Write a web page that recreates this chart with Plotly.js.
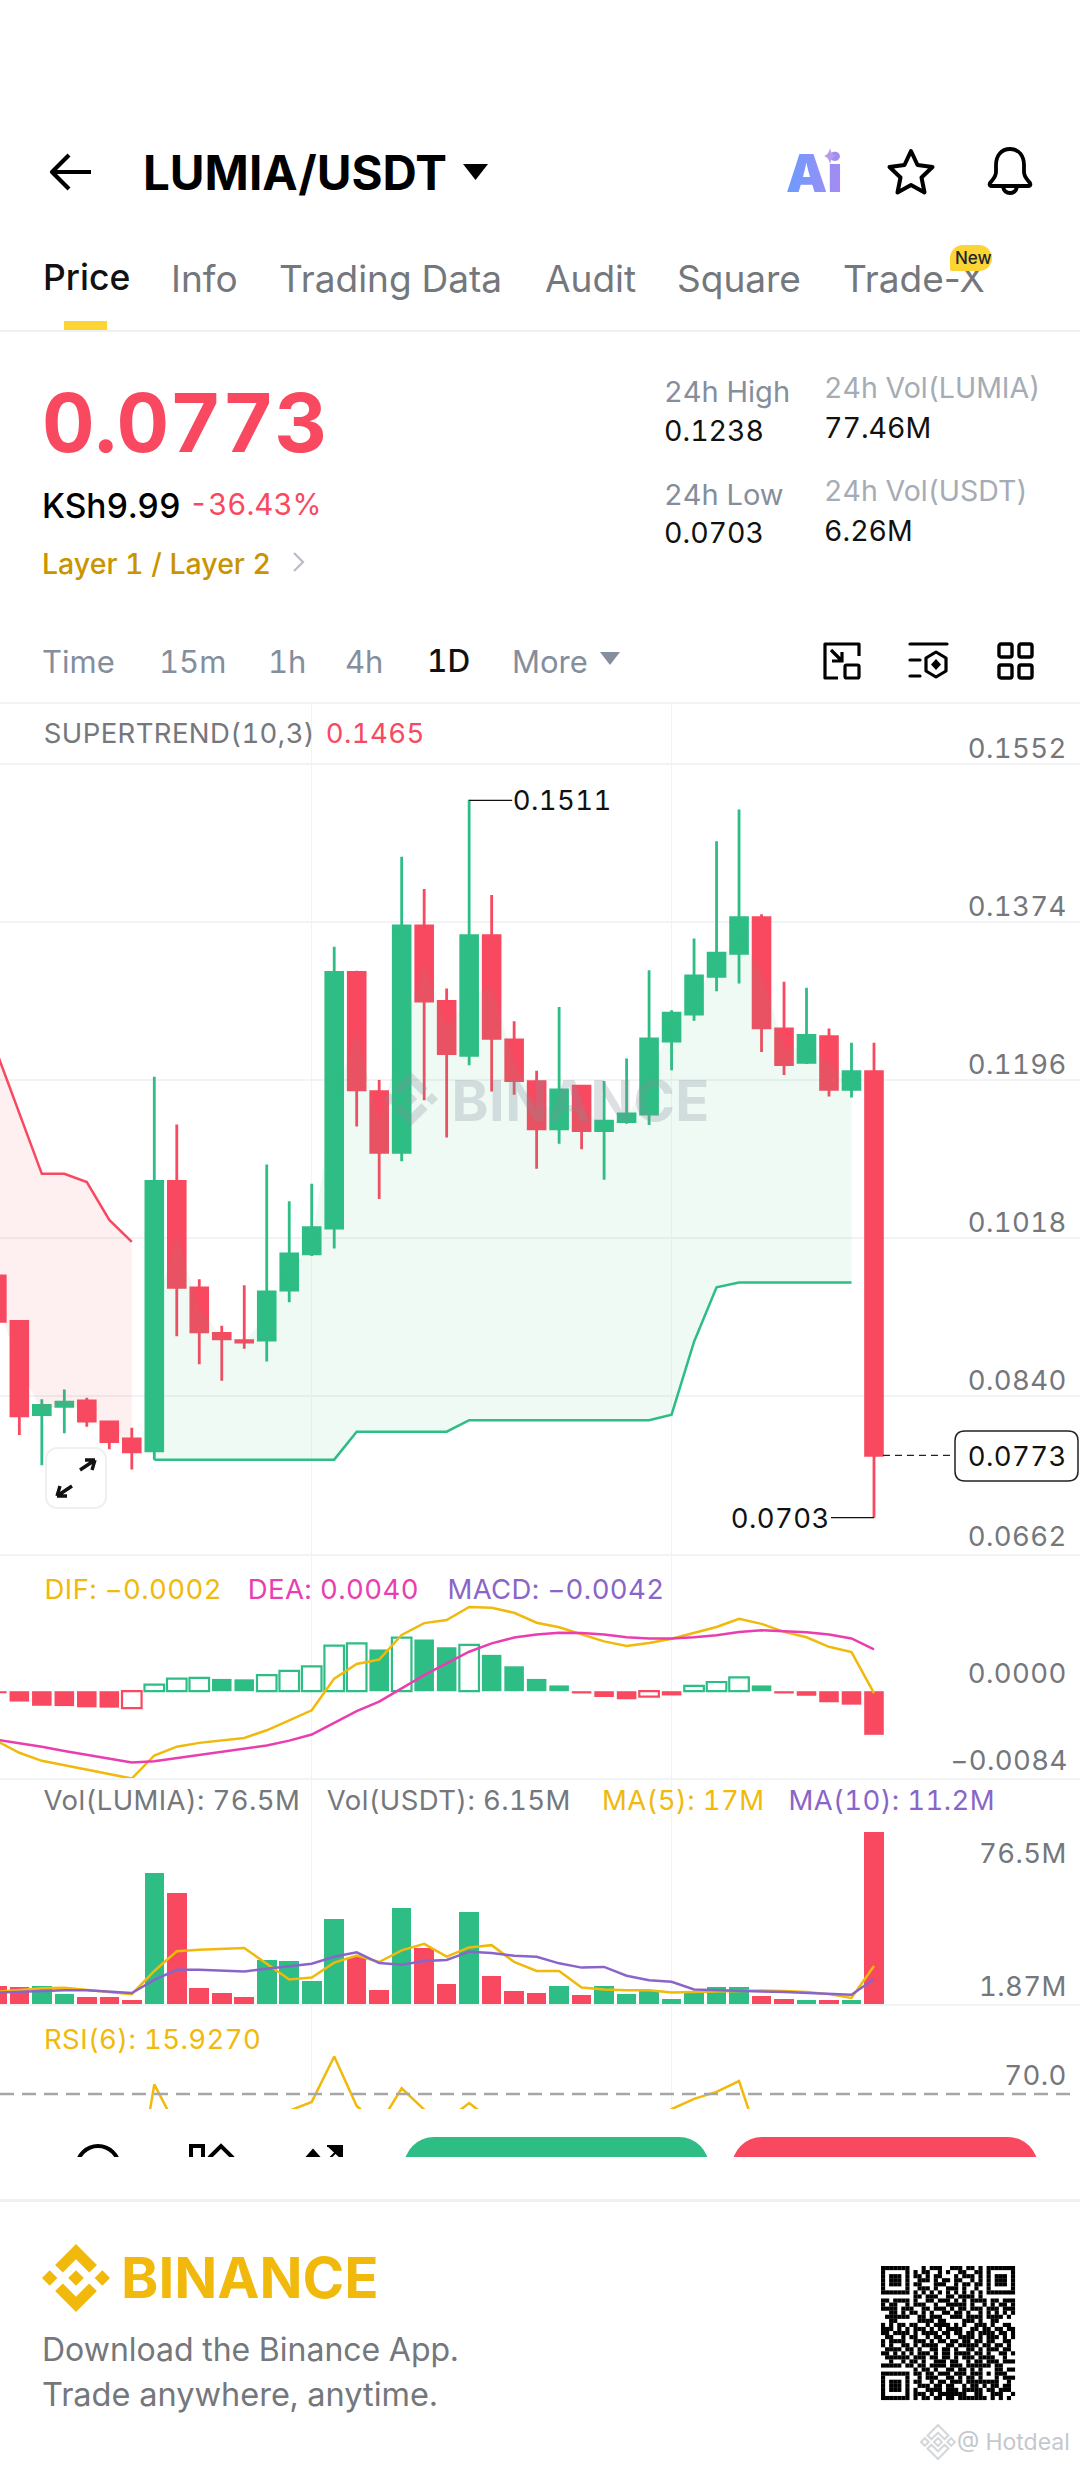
<!DOCTYPE html>
<html>
<head>
<meta charset="utf-8">
<script src="https://cdn.plot.ly/plotly-3.0.1.min.js"></script>
<style>
html,body{margin:0;padding:0;background:#fff;width:1080px;height:2466px;overflow:hidden;font-family:Inter,"Noto Sans",sans-serif;font-feature-settings:"tnum" 1}
#plot{position:absolute;left:0;top:700px;width:1080px;height:1410px}
#plot text{font-feature-settings:"tnum" 1 !important;letter-spacing:.4px}
.t{position:absolute;white-space:nowrap;transform:translateY(-50%);line-height:1}
svg.i{position:absolute;overflow:visible}
.b{position:absolute;background:#fff}
</style>
</head>
<body>
<div id="plot"></div>
<div id="chrome"></div>
<script>
// ---------- chart data ----------
const candleIndex = [0,1,2,3,4,5,6,7,8,9,10,11,12,13,14,15,16,17,18,19,20,21,22,23,24,25,26,27,28,29,30,31,32,33,34,35,36,37,38,39];
const openPrice  = [.09753,.0924,.0819,.08282,.08344,.08109,.07918,.07782,.10817,.09618,.09105,.09024,.0903,.09593,.10001,.10291,.13171,.1183,.11144,.13697,.12844,.12238,.13585,.12411,.11941,.1141,.11892,.11391,.1149,.11577,.12399,.12702,.13128,.13388,.13789,.12535,.12158,.12448,.11855,.12053];
const closePrice = [.0924,.08177,.08295,.08332,.08116,.07887,.0777,.10817,.09624,.09123,.09043,.09006,.09574,.10001,.10297,.13171,.11849,.11144,.13697,.1285,.12257,.13585,.1243,.11954,.1141,.11849,.11391,.11496,.11577,.12424,.12714,.13134,.13388,.13789,.12547,.12133,.12461,.11855,.12053,.07732];
const highPrice  = [.09753,.0924,.08363,.08474,.08381,.08122,.08041,.11997,.11459,.09716,.09191,.09648,.11008,.10594,.10792,.13462,.1319,.1196,.14475,.14111,.12992,.15118,.14043,.12621,.12065,.12782,.11904,.11948,.12201,.13196,.12745,.13555,.14649,.15007,.13827,.13066,.12998,.12541,.1238,.1238];
const lowPrice   = [.0924,.07961,.07621,.0798,.08054,.078,.07572,.07683,.09074,.08758,.08573,.08931,.08789,.09457,.09976,.10063,.11435,.10619,.11045,.11731,.11311,.12127,.1183,.11793,.10959,.11243,.11181,.10835,.11466,.11453,.12071,.12627,.12961,.13048,.12275,.12016,.12139,.11775,.11762,.07028];
const supertrendDown = [.12269,.11589,.10903,.10903,.1081,.10384,.10137];
const supertrendUp = [.07683,.07683,.07683,.07683,.07683,.07683,.07683,.07683,.07683,.07998,.07998,.07998,.07998,.07998,.08128,.08128,.08128,.08128,.08128,.08128,.08128,.08128,.08128,.0819,.09012,.09624,.09679,.09679,.09679,.09679,.09679,.09679];
const macdHist = [-.0002,-.001,-.00141,-.00144,-.00156,-.00159,-.00163,.00063,.00122,.0013,.00119,.00115,.00156,.00196,.00241,.00441,.00463,.00404,.00519,.005,.00426,.00448,.00352,.00241,.00119,.00056,-.00022,-.00056,-.00078,-.00052,-.00041,.00052,.00089,.00133,.00056,-.00022,-.00044,-.00107,-.0013,-.00422];
const macdHollow = [6,7,8,9,12,13,14,15,16,18,21,29,31,32,33];
const macdDif = [-.00482,-.00596,-.00674,-.00715,-.00759,-.00804,-.00845,-.00622,-.00537,-.005,-.00474,-.00452,-.00378,-.00285,-.00185,.00122,.00263,.00307,.00544,.00659,.00689,.00815,.00807,.00759,.00663,.00619,.00548,.00482,.00437,.00467,.00507,.00567,.00622,.007,.00652,.00574,.00522,.0043,.00378,-.00019];
const macdDea = [-.0047,-.005,-.00537,-.00578,-.00615,-.00652,-.00689,-.00678,-.00648,-.00619,-.00593,-.00563,-.00526,-.00478,-.00419,-.00307,-.00193,-.001,.00026,.00156,.0027,.00382,.00463,.00519,.00548,.00567,.00563,.00548,.00522,.00511,.00511,.00522,.00541,.00574,.00589,.00582,.0057,.00548,.00511,.00404];
const volume = [7.8,7.5,8.2,4.6,3.2,3.2,2.0,58.4,49.6,7.3,4.9,3.2,19.4,19.3,10.4,37.7,21,6.3,42.9,25,9,40.9,12.4,5.8,4.9,8,4.1,7.8,4.4,6.1,2.4,6,7.5,7.7,3.4,2.4,2,1.9,2,76.5];
const volMa5 = [5.5,6.1,7.0,7.2,6.3,5.6,4.4,14.7,23.5,24.2,24.5,24.9,17.9,10.9,11.8,18.4,21.6,18.7,23.9,26.8,21.1,25.2,26.2,18.7,14.7,14.7,7.3,6.5,6.1,6.1,5.1,5.3,5.6,6.0,6.0,5.8,5.3,4.4,2.7,16.9];
const volMa10 = [5.1,5.5,6.0,6.1,6.1,5.6,4.9,10.7,15.2,15.3,15.0,14.5,15.7,16.9,17.9,21.0,23.0,18.2,17.5,19.1,19.6,23.3,22.7,21.5,21.0,18.1,16.2,16.5,12.6,10.6,9.9,6.5,6.1,5.8,5.6,5.3,4.9,4.4,4.1,11.1];
const rsi6 = [30,22,26,27,24,20,18,74,56,44,42,42,55,63,66.7,85.6,65,57,72.4,63.5,59,66.2,59,50,46,48,44,45,46,55,63.7,68,70.9,75.4,47.5,42,44,38,40,15.93];
const priceTicks = [.1552,.1374,.1196,.1018,.084,.0662];
const priceTickText = ['0.1552','0.1374','0.1196','0.1018','0.0840','0.0662'];
const macdTicks = [0,-.0084];
const macdTickText = ['0.0000','\u22120.0084'];
const rsiTicks = [70];
const rsiTickText = ['70.0'];
const timeGrid = [14,30];

const GREEN='#2EBD85', RED='#F84960', ORANGE='#F0B90B', PINK='#E93DB0', PURPLE='#8A65C9', GRAY='#74777B';
const FONT='Inter, "Noto Sans", sans-serif';
const GRID='#F1F3F5';
const H=1410, TOP=700;
const py=y=>1-(y-TOP)/H, px=x=>x/1080;
const dom=(a,b)=>[py(b),py(a)];
const isUp=candleIndex.map(i=>closePrice[i]>=openPrice[i]);
const mid=candleIndex.map(i=>(openPrice[i]+closePrice[i])/2);

const redIdx=candleIndex.slice(0,7), greenIdx=candleIndex.slice(7,39);
const hollow=candleIndex.map(i=>macdHollow.includes(i));
const macdCol=macdHist.map(v=>v>=0?GREEN:RED);

const traces=[
 {type:'candlestick',name:'LUMIA/USDT',x:candleIndex,open:openPrice,close:closePrice,high:highPrice,low:lowPrice,xaxis:'x',yaxis:'y',
  increasing:{line:{color:GREEN,width:2.8},fillcolor:GREEN},decreasing:{line:{color:RED,width:2.8},fillcolor:RED},hoverinfo:'skip'},
 {type:'scatter',mode:'lines',x:redIdx,y:redIdx.map(i=>mid[i]),line:{width:0},hoverinfo:'skip',xaxis:'x',yaxis:'y'},
 {type:'scatter',mode:'lines',name:'Supertrend down',x:redIdx,y:supertrendDown,line:{color:RED,width:2.5},fill:'tonexty',fillcolor:'rgba(248,73,96,0.09)',hoverinfo:'skip',xaxis:'x',yaxis:'y'},
 {type:'scatter',mode:'lines',x:greenIdx,y:greenIdx.map(i=>mid[i]),line:{width:0},hoverinfo:'skip',xaxis:'x',yaxis:'y'},
 {type:'scatter',mode:'lines',name:'Supertrend up',x:greenIdx,y:supertrendUp,line:{color:GREEN,width:2.5},fill:'tonexty',fillcolor:'rgba(46,189,133,0.08)',hoverinfo:'skip',xaxis:'x',yaxis:'y'},
 {type:'bar',name:'MACD',x:candleIndex,y:macdHist,width:.87,xaxis:'x2',yaxis:'y2',hoverinfo:'skip',
  marker:{color:macdCol.map((c,i)=>hollow[i]?'#fff':c),line:{color:macdCol,width:hollow.map(h=>h?2.2:0)}}},
 {type:'scatter',mode:'lines',name:'DIF',x:candleIndex,y:macdDif,line:{color:ORANGE,width:2.5},xaxis:'x2',yaxis:'y2',hoverinfo:'skip'},
 {type:'scatter',mode:'lines',name:'DEA',x:candleIndex,y:macdDea,line:{color:PINK,width:2.5},xaxis:'x2',yaxis:'y2',hoverinfo:'skip'},
 {type:'bar',name:'Volume',x:candleIndex,y:volume,width:.87,xaxis:'x3',yaxis:'y3',hoverinfo:'skip',marker:{color:isUp.map(u=>u?GREEN:RED)}},
 {type:'scatter',mode:'lines',name:'MA(5)',x:candleIndex,y:volMa5,line:{color:ORANGE,width:2.5},xaxis:'x3',yaxis:'y3',hoverinfo:'skip'},
 {type:'scatter',mode:'lines',name:'MA(10)',x:candleIndex,y:volMa10,line:{color:PURPLE,width:2.5},xaxis:'x3',yaxis:'y3',hoverinfo:'skip'},
 {type:'scatter',mode:'lines',name:'RSI(6)',x:candleIndex,y:rsi6,line:{color:ORANGE,width:2.5},xaxis:'x4',yaxis:'y4',hoverinfo:'skip'}
];

const FS=27.5;
const xBase={range:[.14,48.16],tickmode:'array',tickvals:timeGrid,showticklabels:false,ticks:'',showgrid:true,gridcolor:GRID,gridwidth:1.5,zeroline:false,fixedrange:true,rangeslider:{visible:false}};
const yBase={side:'right',ticks:'',zeroline:false,fixedrange:true,tickmode:'array',showticklabels:false};
const label=(text,x,y,color,size,extra)=>{const right=extra&&extra.xanchor==='right';return Object.assign({xref:'paper',yref:'paper',x:px(x+(right?3:-1)),y:py(y),xanchor:'left',yanchor:'middle',showarrow:false,text,font:{family:FONT,size:size||FS,color}},extra||{});};
const tickLabel=(text,yref,v,shift)=>({xref:'paper',yref,x:px(1068),y:v,yshift:shift,xanchor:'right',yanchor:'middle',showarrow:false,text,font:{family:FONT,size:FS,color:GRAY}});

const layout={
 width:1080,height:H,margin:{l:0,r:0,t:0,b:0,pad:0},paper_bgcolor:'rgba(0,0,0,0)',plot_bgcolor:'rgba(0,0,0,0)',showlegend:false,boxgap:.1,boxgroupgap:.17,bargap:0,hovermode:false,dragmode:false,
 xaxis:Object.assign({},xBase,{anchor:'y',showline:true,linecolor:GRID,linewidth:2}),
 xaxis2:Object.assign({},xBase,{anchor:'y2',matches:'x',showline:true,linecolor:GRID,linewidth:2}),
 xaxis3:Object.assign({},xBase,{anchor:'y3',matches:'x',showline:true,linecolor:GRID,linewidth:2}),
 xaxis4:Object.assign({},xBase,{anchor:'y4',matches:'x'}),
 yaxis:Object.assign({},yBase,{domain:dom(703,1554),range:[.0662,.16207],tickvals:priceTicks,showgrid:true,gridcolor:GRID,gridwidth:1.5}),
 yaxis2:Object.assign({},yBase,{domain:dom(1554,1778),range:[-.0084,.01328],tickvals:macdTicks,showgrid:false}),
 yaxis3:Object.assign({},yBase,{domain:dom(1778,2004),range:[0,100.6],tickvals:[],showgrid:false}),
 yaxis4:Object.assign({},yBase,{domain:dom(2004,2109),range:[63.75,107.5],tickvals:rsiTicks,showgrid:false}),
 shapes:[
  {type:'line',xref:'paper',yref:'y4',x0:0,x1:px(1070),y0:70,y1:70,line:{color:'#A6A6A6',width:2.5,dash:'14px,8px'}},
  {type:'line',xref:'x',yref:'y',x0:39.4,x1:42.6,y0:.0773,y1:.0773,line:{color:'#222',width:1.3,dash:'7px,5px'}},
  {type:'path',xref:'paper',yref:'paper',path:`M${px(965)} ${py(1431)} L${px(1068)} ${py(1431)} Q${px(1078)} ${py(1431)} ${px(1078)} ${py(1441)} L${px(1078)} ${py(1471)} Q${px(1078)} ${py(1481)} ${px(1068)} ${py(1481)} L${px(965)} ${py(1481)} Q${px(955)} ${py(1481)} ${px(955)} ${py(1471)} L${px(955)} ${py(1441)} Q${px(955)} ${py(1431)} ${px(965)} ${py(1431)} Z`,fillcolor:'#fff',line:{color:'#222',width:1.5}}
 ],
 annotations:[
  label('SUPERTREND(10,3)',46,733,GRAY),
  label('0.1465',326,733,RED),
  {xref:'x',yref:'y',x:21,y:.1511,ax:43,ay:0,text:'0.1511',xanchor:'left',yanchor:'middle',showarrow:true,arrowhead:0,arrowwidth:1.4,arrowcolor:'#111',standoff:0,font:{family:FONT,size:FS,color:'#111'}},
  {xref:'x',yref:'y',x:39,y:.0703,ax:-43,ay:0,text:'0.0703',xanchor:'right',yanchor:'middle',showarrow:true,arrowhead:0,arrowwidth:1.4,arrowcolor:'#111',standoff:0,font:{family:FONT,size:FS,color:'#111'}},
  label('0.0773',1065,1456,'#111',FS,{xanchor:'right'}),
  label('BINANCE',452,1101,'rgba(132,142,156,.28)',56,{font:{family:FONT,size:56,color:'rgba(132,142,156,.28)',weight:700}}),
  label('DIF: \u22120.0002',46,1589,ORANGE),
  label('DEA: 0.0040',249,1589,PINK),
  label('MACD: \u22120.0042',449,1589,PURPLE),
  label('Vol(LUMIA): 76.5M',46,1800,GRAY),
  label('Vol(USDT): 6.15M',329,1800,GRAY),
  label('MA(5): 17M',603,1800,ORANGE),
  label('MA(10): 11.2M',790,1800,PURPLE),
  label('76.5M',1065,1853,GRAY,FS,{xanchor:'right'}),
  label('1.87M',1065,1986,GRAY,FS,{xanchor:'right'}),
  label('RSI(6): 15.9270',46,2039,ORANGE)
 ].concat(
  priceTicks.map((v,i)=>tickLabel(priceTickText[i],'y',v,i===5?17.5:16)),
  macdTicks.map((v,i)=>tickLabel(macdTickText[i],'y2',v,18)),
  rsiTicks.map((v,i)=>tickLabel(rsiTickText[i],'y4',v,19))
 )
};
Plotly.newPlot('plot',traces,layout,{staticPlot:true,displayModeBar:false});

// ---------- app chrome around the chart ----------
const chrome=document.getElementById('chrome');
function t(text,x,cy,size,color,weight,right){
 const s=document.createElement('div');s.className='t';s.textContent=text;
 s.style.cssText=`top:${cy}px;${right?'right:'+(1080-x):'left:'+x}px;font-size:${size}px;color:${color};font-weight:${weight||400}`;
 chrome.appendChild(s);return s;
}
function box(x,y,w,h,bg,extra){const d=document.createElement('div');d.className='b';d.style.cssText=`left:${x}px;top:${y}px;width:${w}px;height:${h}px;background:${bg};${extra||''}`;chrome.appendChild(d);return d;}
function svg(x,y,w,h,inner,vb){const n=document.createElementNS('http://www.w3.org/2000/svg','svg');n.setAttribute('class','i');n.setAttribute('width',w);n.setAttribute('height',h);n.setAttribute('viewBox',vb||`0 0 ${w} ${h}`);n.style.left=x+'px';n.style.top=y+'px';n.innerHTML=inner;chrome.appendChild(n);return n;}
const BN='M38.73 53.2l24.59-24.58 24.6 24.6 14.3-14.31L63.32 0 24.42 38.9zM0 63.31L14.3 49l14.3 14.31-14.3 14.3zM38.73 73.41l24.59 24.59 24.6-24.6 14.31 14.29-38.9 38.91-38.91-38.88v-.03zM98.01 63.31l14.3-14.31 14.3 14.3-14.3 14.31zM77.83 63.3L63.32 48.78 52.59 59.51l-1.24 1.23-2.54 2.54 14.51 14.5 14.51-14.47z';

// header
svg(49,152,44,40,'<path d="M42 20H4M20 3L3 20l17 17" fill="none" stroke="#000" stroke-width="4.2" stroke-linejoin="round"/>');
t('LUMIA/USDT',143,173,47.5,'#000',700);
svg(463,163,26,18,'<path d="M0 1h25L12.5 17z" fill="#000"/>');
svg(785,148,58,48,'<defs><linearGradient id="ag" x1="0" y1="0" x2="1" y2="0"><stop offset="0" stop-color="#6B9BFF"/><stop offset="1" stop-color="#A78BF0"/></linearGradient></defs><text x="1" y="44" font-family="Inter" font-weight="900" font-size="52" fill="url(#ag)">Ai</text><path d="M45 0c1 5 3 7 6 8-3 1-5 3-6 8-1-5-3-7-6-8 3-1 5-3 6-8z" fill="#B59BEA"/>');
svg(886,148,50,48,'<path d="M25 3l6.5 14 15 2-11 10.5 3 15L25 37l-13.500 7.500 3-15L3.500 19l15-2z" fill="none" stroke="#000" stroke-width="4" stroke-linejoin="round"/>');
svg(986,146,48,50,'<path d="M24 3c-9 0-14 7-14 16v7c0 5-3 7-6 11-1 2 0 3 2 3h36c2 0 3-1 2-3-3-4-6-6-6-11v-7c0-9-5-16-14-16zM17 41c1 4 3 6 7 6s6-2 7-6" fill="none" stroke="#000" stroke-width="3.8" stroke-linejoin="round"/>');
// tabs
t('Price',43,278,35.5,'#111',500);
[['Info',171],['Trading Data',279],['Audit',545],['Square',677]].forEach(a=>t(a[0],a[1],278,37,'#74777B',400));
t('Trade-X',843,278,37,'#74777B',400).style.fontFeatureSettings='normal';
box(950,245,42,26,'#FCD535','border-radius:13px 13px 13px 2px');
t('New',955,258,17,'#202630',500);
box(64,321,43,9,'#FCD535');
box(0,330,1080,1.5,'#EEF0F2');
// price block
t('0.0773',42,423,81.5,RED,700);
t('KSh9.99',42,507,33.5,'#000',500);
t('-36.43%',189,505,29.5,RED,400);
t('Layer 1 / Layer 2',42,564,28.5,'#C99400',500);
svg(292,551,13,22,'<path d="M2 2l9 9-9 9" fill="none" stroke="#B7BDC6" stroke-width="2.200"/>');
t('24h High',664,391,29,'#848E9C');
t('0.1238',664,431,28.5,'#111');
t('24h Low',664,494,29,'#848E9C');
t('0.0703',664,533,28.5,'#111');
t('24h Vol(LUMIA)',824,388,28.5,'#A5ACB5');
t('77.46M',824,428,28.5,'#111');
t('24h Vol(USDT)',824,490.5,28.5,'#A5ACB5');
t('6.26M',824,530.5,28.5,'#111');
// timeframe row
[['Time',42],['15m',159],['1h',268],['4h',345],['More',512]].forEach(a=>t(a[0],a[1],661,31,'#848E9C'));
t('1D',427,661,31.5,'#111',500);
svg(600,652,20,14,'<path d="M0 0h20L10 13z" fill="#848E9C"/>');
svg(823,642,38,38,'<path d="M36 14V2H2v34h13M36 20v0" fill="none" stroke="#000" stroke-width="3.200" stroke-linejoin="round"/><rect x="22" y="23" width="14" height="13" rx="1.500" fill="none" stroke="#000" stroke-width="3.200"/><path d="M8 8l11 11M19 10v9H9" fill="none" stroke="#000" stroke-width="3.200"/>');
svg(909,642,40,38,'<path d="M1 2h37M1 18h10M1 34h10" fill="none" stroke="#000" stroke-width="3.200" stroke-linecap="round"/><path d="M27 10l10 6v13l-10 6-10-6V16z" fill="none" stroke="#000" stroke-width="3.200" stroke-linejoin="round"/><path d="M27 17l5 5.500-5 5.500-5-5.500z" fill="#000"/>');
svg(997,642,37,38,'<g fill="none" stroke="#000" stroke-width="3.400"><rect x="2" y="2" width="13" height="13" rx="2"/><rect x="22" y="2" width="13" height="13" rx="2"/><rect x="2" y="23" width="13" height="13" rx="2"/><rect x="22" y="23" width="13" height="13" rx="2"/></g>');
box(0,702,1080,2,'#F1F3F5');
// watermark logo and expand button inside the chart area
svg(384,1072,54,54,`<path d="${BN}" fill="rgba(132,142,156,.28)"/>`,'0 0 126.61 126.61');
box(45,1447,62,62,'#fff','box-sizing:border-box;border:2px solid #EEF0F2;border-radius:12px');
svg(55,1456,42,44,'<path d="M2 40l15-10M2 40h10M2 40l3-10M40 4L25 14M40 4H30M40 4l-3 10" fill="none" stroke="#111" stroke-width="3.400"/>');
// bottom bar, cut off
const barClip=document.createElement('div');barClip.style.cssText='position:absolute;left:0;top:2110px;width:1080px;height:47px;overflow:hidden';chrome.appendChild(barClip);
const inner=`<div style="position:absolute;left:404px;top:27px;width:305px;height:60px;background:${GREEN};border-radius:30px 30px 0 0"></div><div style="position:absolute;left:732px;top:27px;width:306px;height:60px;background:${RED};border-radius:30px 30px 0 0"></div>
<svg width="1080" height="47" style="position:absolute;left:0;top:0"><circle cx="98" cy="57" r="21" fill="none" stroke="#000" stroke-width="4"/><path d="M191 60V36h12v24M209 48l12-12 12 12" fill="none" stroke="#000" stroke-width="4"/><path d="M305 49l8-9 8 9zM327 36h15v14M342 36l-12 12" fill="#000" stroke="#000" stroke-width="2"/></svg>`;
barClip.innerHTML=inner;
box(0,2199,1080,3,'#EEF0F2');
// footer
svg(42,2244,68,68,`<path d="${BN}" fill="#F0B90B"/>`,'0 0 126.61 126.61');
t('BINANCE',121,2278,56.5,'#F0B90B',700);
t('Download the Binance App.',42,2350,32,'#74777B');
t('Trade anywhere, anytime.',42,2395,32.5,'#74777B');
const qrRows=[
'XXXXXXX...X.XXX..XXX.XX.X.XXXXXXX','X.....X.X.XX..X.X..XX..XX.X.....X','X.XXX.X.XX.X.XX...X.XXX.X.X.XXX.X','X.XXX.X..XXX.X.XX.XX..X.X.X.XXX.X','X.XXX.X.XX...XXX..X.XX.XX.X.XXX.X','X.....X..XXX.X..XXX.X..X..X.....X','XXXXXXX.X.X.X.X.X.X.X.X.X.XXXXXXX','........XX.XXX..XX.XXXX.X........',
'XX.XXXX.X..XX.XXX.X.X.XXXX.XX.XXX','X.XX..X.XXX..X..XXXXX.X..X.X.XX.X','XXXX.XXX..XX.XXX.X.XX.XXX.XXX.XXX','..XX.X.XX.X.X..XX.XX.X..X.X.X.X.X','.XXXXXX..XX.XXX..XXX.XXXX.XXXX.X.','..XX.....XXXX.XX....XXX.X..XX....','X.X.XX.XX..X.XXXX.X.X..XXX.X..XX.','XXX.X.X.XXX.X.X.XXXX..XX.XX.XX.XX','XX.XXXX.X.XXXX.XX.XX.XX.XXXX.XX.X','.XX..X.XX..X.XX.X..XXXX.X.XXX.X.X','X.XXXX..XXX.X.XX.XX.XX.XX.XX..XX.','X.X..XX.X.XXXX..XX.XXXXX.XX.XX.X.','.XXXX.XX.X..XX.XX.X..XX.X.XXX.XX.','XX.X.X.X.XXX.X.XX.XXXX.XX.X..XX.X','.XXXXXX.XXX.XX.XX.X.XXX.XXXX..X..','..X..X.XX.X..XXX.XX..X.XX.XXX.XXX','XXXXX.XX.XX.XXXX.XXX.XXXXXX.XX...',
'........X.XX.X..XX.XX.X.X...XX.XX','XXXXXXX.XX.XX.XXX.XXX.XXX.X.XXX..','X.....X..X.XXX..XX.X.XX.X...X.XXX','X.XXX.X.XX..X.XX.XXX.XXXXXXXX..X.','X.XXX.X..XXX.XX.XX..X.XX.X.XX.XX.','X.XXX.X.X..XXXX.XXX.XXXXX.XX.XXX.','X.....X.XXX.X.XXXXXXX..XX..XXX..X','XXXXXXX.X.XX.XX.XX.XXXXXXX.X.X.X.'];
let q='';qrRows.forEach((r,y)=>[...r].forEach((c,x)=>{if(c==='X')q+=`<rect x="${x}" y="${y}" width="1.02" height="1.02"/>`;}));
svg(881,2266,134,134,q,'0 0 33 33');
svg(921,2424,34,36,`<path d="${BN}" fill="none" stroke="#D5D8DC" stroke-width="8"/>`,'0 0 126.61 126.61');
t('@ Hotdeal',957,2442,23,'#C4C8CE');
</script>
</body>
</html>
